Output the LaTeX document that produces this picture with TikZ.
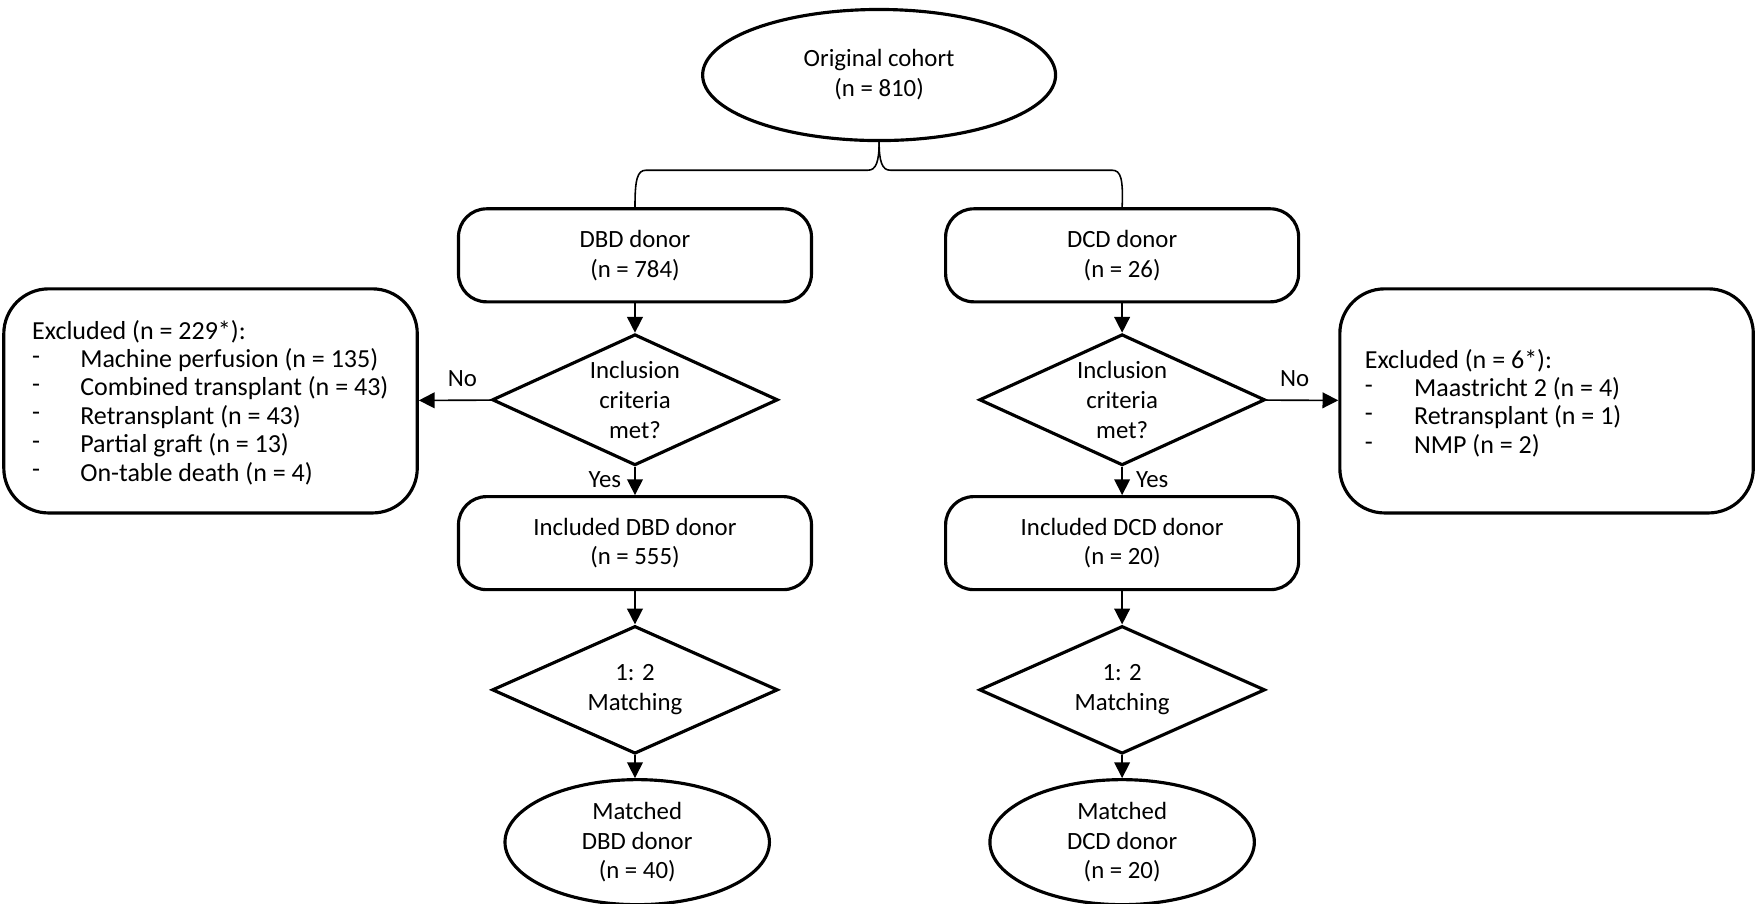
\documentclass[tikz,border=0pt]{standalone}
\usepackage{fontspec}
\setmainfont{Carlito}
\usetikzlibrary{shapes.geometric,arrows.meta}
\begin{document}
\begin{tikzpicture}[x=0.01cm,y=-0.01cm,
  every node/.style={font=\fontsize{6.3}{7.6}\selectfont},
  box/.style={draw,thick,rounded corners=2.5mm,minimum width=3.15cm,minimum height=0.83cm,align=center},
  dia/.style={draw,thick,diamond,aspect=2.18,minimum width=2.55cm,minimum height=1.17cm,inner sep=0pt,align=center},
  ell/.style={draw,thick,ellipse,align=center},
  big/.style={draw,thick,rounded corners=4mm,minimum width=3.69cm,minimum height=2cm},
  arr/.style={-{Triangle[length=4pt,width=4pt]},thin},
  item/.style={anchor=west,inner sep=0pt,font=\fontsize{6.6}{8}\selectfont}]
\useasboundingbox (0,0) rectangle (1568,807);
\node[ell,minimum width=3.15cm,minimum height=1.17cm] (orig) at (785,67) {Original cohort\\(n = 810)};
\node[box] (dbd) at (567,228) {DBD donor\\(n = 784)};
\node[box] (dcd) at (1002,228) {DCD donor\\(n = 26)};
\node[dia] (d1) at (567,357) {Inclusion\\criteria\\met?};
\node[dia] (d2) at (1002,357) {Inclusion\\criteria\\met?};
\node[big] (exl) at (188,358) {};
\node[big] (exr) at (1381,358) {};
\node[box] (idbd) at (567,485) {Included DBD donor\\(n = 555)};
\node[box] (idcd) at (1002,485) {Included DCD donor\\(n = 20)};
\node[dia,minimum height=1.14cm] (m1) at (567,616) {1: 2\\Matching};
\node[dia,minimum height=1.14cm] (m2) at (1002,616) {1: 2\\Matching};
\node[ell,minimum width=2.36cm,minimum height=1.03cm,inner sep=1pt] (md1) at (569,752) {Matched\\DBD donor\\(n = 40)};
\node[ell,minimum width=2.36cm,minimum height=1.03cm,inner sep=1pt] (md2) at (1002,752) {Matched\\DCD donor\\(n = 20)};
% brace
\coordinate (bl) at (dbd.north);
\coordinate (br) at (dcd.north);
\draw[thin] (orig.south) .. controls (785,145) and (782,152) .. (775,152) -- (577,152) .. controls (569,152) and (567,160) .. (bl);
\draw[thin] (orig.south) .. controls (785,145) and (788,152) .. (795,152) -- (993,152) .. controls (1001,152) and (1003,160) .. (br);
\draw[arr] (dbd) -- (d1);
\draw[arr] (dcd) -- (d2);
\draw[arr] (d1) -- node[above,pos=0.4]{No} (exl);
\draw[arr] (d2) -- node[above,pos=0.4]{No} (exr);
\draw[arr] (d1) -- node[left,pos=0.45]{Yes} (idbd);
\draw[arr] (d2) -- node[right,pos=0.45]{Yes} (idcd);
\draw[arr] (idbd) -- (m1);
\draw[arr] (idcd) -- (m2);
\draw[arr] (m1.south) -- (m1.south |- md1.north);
\draw[arr] (m2.south) -- (m2.south |- md2.north);
% excluded texts
\node[item] (lh) at (28,296) {Excluded (n = 229*):};
\foreach \t [count=\i] in {Machine perfusion (n = 135),Combined transplant (n = 43),Retransplant (n = 43),Partial graft (n = 13),On-table death (n = 4)}{
  \node[item] (ld\i) at (28,296+25.4*\i) {-};
  \node[item] (lt\i) at (71,296+25.4*\i) {\t};}
\node[item] (rh) at (1218,322) {Excluded (n = 6*):};
\foreach \t [count=\i] in {Maastricht 2 (n = 4),Retransplant (n = 1),NMP (n = 2)}{
  \node[item] (rd\i) at (1218,322+25.4*\i) {-};
  \node[item] (rt\i) at (1262,322+25.4*\i) {\t};}
\end{tikzpicture}
\end{document}
